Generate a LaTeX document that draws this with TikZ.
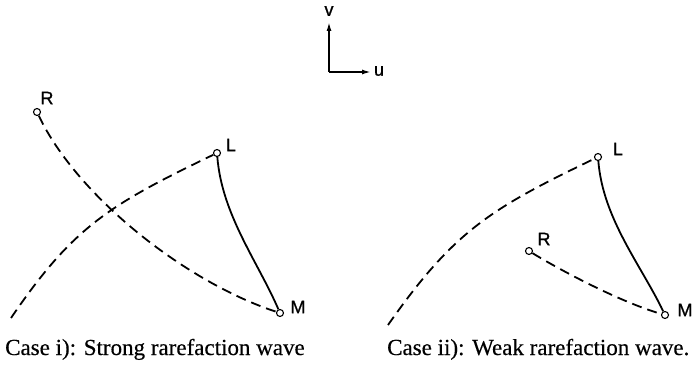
\documentclass[tikz,border=0pt]{standalone}
\usepackage{fontspec}
\setmainfont{Liberation Serif}
\setsansfont{Liberation Sans}
\newfontfamily\lblfont[FakeBold=1]{Liberation Sans}
\newfontfamily\capfont[FakeBold=0.4]{Liberation Serif}
\usetikzlibrary{arrows.meta}
\tikzset{
  pt/.style={circle,draw,line width=1.1pt,inner sep=0pt,minimum size=7pt,fill=white},
  dsh/.style={line width=1.8pt,dash pattern=on 10pt off 6pt},
  sol/.style={line width=1.8pt},
  lbl/.style={font=\lblfont\fontsize{18}{18}\selectfont,inner sep=0pt},
  captxt/.style={font=\capfont\fontsize{23}{23}\selectfont,inner sep=0pt,anchor=base west},
  ax/.style={line width=1.6pt,-{Latex[length=9pt,width=5pt]}}
}
\begin{document}
\begin{tikzpicture}[x=1pt,y=-1pt]
\useasboundingbox (0,0) rectangle (693,366);
% axes
\coordinate (O) at (329,72);
\coordinate (Vt) at (329,22);
\coordinate (Ut) at (371,72);
\draw[ax] (O) -- (Vt);
\draw[ax] (O) -- (Ut);
\node[lbl] (vl) at (329,11) {v};
\node[lbl] (ul) at (379,71) {u};
% left diagram
\node[pt] (R1) at (37,112) {};
\node[pt] (L1) at (217,153) {};
\node[pt] (M1) at (280,313) {};
\coordinate (A1) at (11,318);
\draw[dsh] (R1) .. controls (78,198) and (188,283) .. (M1);
\draw[sol] (L1) .. controls (222,215) and (258,262) .. (M1);
\draw[dsh] (A1) .. controls (73,227) and (109,205) .. (L1);
\node[lbl] (R1l) at (47,98) {R};
\node[lbl] (L1l) at (231,145) {L};
\node[lbl] (M1l) at (298,307) {M};
% right diagram
\node[pt] (L2) at (598,157) {};
\node[pt] (R2) at (529,251) {};
\node[pt] (M2) at (665,315) {};
\coordinate (A2) at (388,325);
\draw[dsh] (R2) .. controls (560,270) and (620,302) .. (M2);
\draw[sol] (L2) .. controls (603,219) and (641,265) .. (M2);
\draw[dsh] (A2) .. controls (454,231) and (490,209) .. (L2);
\node[lbl] (R2l) at (544,239) {R};
\node[lbl] (L2l) at (618,149) {L};
\node[lbl] (M2l) at (685,310) {M};
% captions
\node[captxt] (c1) at (5,355) {Case i): Strong rarefaction wave};
\node[captxt] (c2) at (387,355) {Case ii): Weak rarefaction wave.};
\end{tikzpicture}
\end{document}
